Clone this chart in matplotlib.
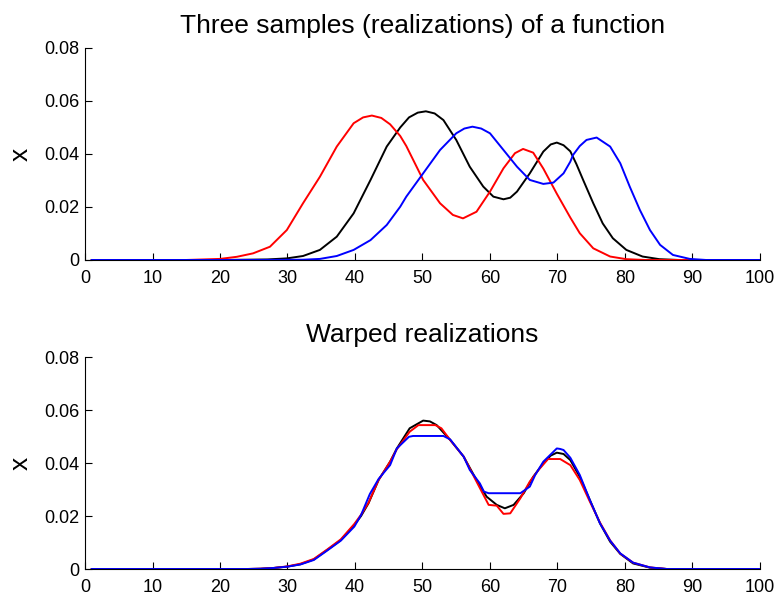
import matplotlib
matplotlib.use("Agg")
import matplotlib.pyplot as plt

plt.rcParams['font.family'] = ['Liberation Sans', 'DejaVu Sans']

# ---- top panel: original realizations ----
red_x = [1, 15, 20.0, 22.5, 24.9, 27.4, 29.9, 32.3, 34.8, 37.3, 39.8, 41.2, 42.5, 43.9, 45.2, 46.7,
         47.6, 50.1, 52.6, 54.5, 56.0, 58.0, 60.0, 62.0, 63.7, 64.9, 66.4, 67.9, 69.9, 71.9, 73.3,
         75.3, 77.8, 80.2, 83, 100]
red_y = [0, 0, 0.0004, 0.0012, 0.0025, 0.0050, 0.0113, 0.0214, 0.0314, 0.0428, 0.0516, 0.0538,
         0.0545, 0.0536, 0.0512, 0.0468, 0.0430, 0.0302, 0.0214, 0.0170, 0.0157, 0.0182, 0.0258,
         0.0346, 0.0403, 0.0419, 0.0405, 0.0345, 0.0250, 0.0160, 0.0101, 0.0044, 0.0013, 0.0003,
         0, 0]

black_x = [1, 20, 27, 29.9, 32.3, 34.8, 37.3, 39.8, 42.3, 44.7, 46.7, 48.0, 49.3, 50.5, 51.8, 53.1,
           55.0, 57.0, 59.0, 60.5, 62.0, 63.0, 64.0, 65.9, 67.9, 69.0, 69.9, 70.9, 71.9, 72.8, 73.8,
           75.3, 76.7, 78.2, 80.2, 82.6, 85.1, 88, 100]
black_y = [0, 0, 0.0002, 0.0006, 0.0015, 0.0038, 0.0088, 0.0176, 0.0302, 0.0428, 0.0500, 0.0538,
           0.0556, 0.0561, 0.0553, 0.0528, 0.0453, 0.0352, 0.0277, 0.0239, 0.0229, 0.0235, 0.0258,
           0.0327, 0.0409, 0.0436, 0.0443, 0.0433, 0.0410, 0.0362, 0.0302, 0.0214, 0.0138, 0.0082,
           0.0038, 0.0013, 0.0003, 0, 0]

blue_x = [1, 25, 32.3, 34.8, 37.3, 39.8, 42.3, 44.7, 46.7, 47.6, 50.1, 52.6, 55.0, 56.2, 57.4, 58.7,
          60.0, 62.0, 64.0, 65.9, 67.9, 69.4, 70.9, 71.9, 72.3, 73.3, 74.3, 75.8, 77.8, 79.3, 80.7,
          82.2, 83.7, 85.2, 87.1, 89.6, 92, 100]
blue_y = [0, 0, 0.0001, 0.0004, 0.0015, 0.0038, 0.0075, 0.0132, 0.0201, 0.0239, 0.0327, 0.0415,
          0.0478, 0.0496, 0.0503, 0.0496, 0.0478, 0.0415, 0.0352, 0.0302, 0.0287, 0.0292, 0.0327,
          0.0371, 0.0396, 0.0430, 0.0453, 0.0462, 0.0428, 0.0365, 0.0277, 0.0189, 0.0113, 0.0057,
          0.0019, 0.0004, 0, 0]

# ---- bottom panel: warped realizations ----
wblack_x = [1, 24, 26, 28, 30.0, 31.9, 33.9, 35.9, 37.9, 39.9, 40.9, 42.0, 43.5, 45.2, 46.2, 48.1,
            49.2, 50.1, 51.1, 52.1, 54.1, 56.1, 58.0, 59.5, 61.0, 62.2, 63.5, 65.0, 66.4, 67.9, 69.0,
            69.9, 70.9, 71.9, 73.3, 74.8, 76.3, 77.8, 79.3, 81.2, 83.7, 86.2, 100]
wblack_y = [0, 0, 0.0001, 0.0004, 0.0009, 0.0018, 0.0036, 0.0072, 0.0109, 0.0166, 0.0200, 0.0248,
            0.0336, 0.0405, 0.0455, 0.0531, 0.0547, 0.0560, 0.0557, 0.0543, 0.0487, 0.0424, 0.0336,
            0.0273, 0.0242, 0.0229, 0.0242, 0.0286, 0.0348, 0.0399, 0.0428, 0.0439, 0.0434, 0.0411,
            0.0348, 0.0260, 0.0172, 0.0103, 0.0057, 0.0021, 0.0005, 0, 0]

wred_x = [1, 24, 26, 28, 30.0, 31.9, 33.9, 35.9, 37.9, 39.9, 40.9, 42.0, 43.5, 45.2, 46.2, 48.1,
          49.4, 51.9, 52.8, 54.1, 56.1, 58.0, 59.8, 61.0, 62.0, 63.0, 64.5, 65.9, 67.2, 68.6, 70.4,
          71.9, 73.3, 74.8, 76.3, 77.8, 79.3, 81.2, 83.7, 86.2, 100]
wred_y = [0, 0, 0.0001, 0.0004, 0.0010, 0.0020, 0.0038, 0.0074, 0.0112, 0.0170, 0.0205, 0.0250,
          0.0336, 0.0405, 0.0452, 0.0518, 0.0543, 0.0543, 0.0531, 0.0487, 0.0424, 0.0330, 0.0242,
          0.0239, 0.0208, 0.0210, 0.0267, 0.0330, 0.0374, 0.0415, 0.0415, 0.0392, 0.0336, 0.0254,
          0.0175, 0.0108, 0.0058, 0.0024, 0.0006, 0, 0]

wblue_x = [1, 24, 26, 28, 30.0, 31.9, 33.9, 35.9, 37.9, 39.9, 40.9, 42.2, 43.5, 45.2, 46.2, 48.0,
           48.6, 53.1, 54.1, 56.1, 57.0, 58.5, 59.1, 59.8, 64.5, 65.9, 66.7, 67.9, 69.9, 70.4, 70.9,
           71.9, 73.3, 74.8, 76.3, 77.8, 79.3, 81.2, 83.7, 86.2, 100]
wblue_y = [0, 0, 0.0001, 0.0004, 0.0009, 0.0017, 0.0034, 0.0070, 0.0107, 0.0160, 0.0204, 0.0283,
           0.0340, 0.0392, 0.0455, 0.0499, 0.0502, 0.0502, 0.0489, 0.0424, 0.0374, 0.0323, 0.0292,
           0.0286, 0.0286, 0.0311, 0.0355, 0.0405, 0.0455, 0.0453, 0.0449, 0.0420, 0.0355, 0.0260,
           0.0172, 0.0107, 0.0059, 0.0024, 0.0006, 0, 0]

x_ticks = [0, 10, 20, 30, 40, 50, 60, 70, 80, 90, 100]
y_ticks = [0, 0.02, 0.04, 0.06, 0.08]
y_ticklabels = ['0', '0.02', '0.04', '0.06', '0.08']
titles = ['Three samples (realizations) of a function', 'Warped realizations']

fig = plt.figure(figsize=(7.77, 5.96), dpi=100)
ax1 = fig.add_axes([0.1094, 0.5638, 0.8687, 0.3557])
ax2 = fig.add_axes([0.1094, 0.0453, 0.8687, 0.3557])

lw = 1.4
ax1.plot(black_x, black_y, color='black', lw=lw)
ax1.plot(red_x, red_y, color='red', lw=lw)
ax1.plot(blue_x, blue_y, color='blue', lw=lw)

ax2.plot(wblack_x, wblack_y, color='black', lw=lw)
ax2.plot(wred_x, wred_y, color='red', lw=lw)
ax2.plot(wblue_x, wblue_y, color='blue', lw=lw)

for ax, title in zip((ax1, ax2), titles):
    ax.set_title(title, fontsize=19, pad=11)
    ax.set_xlim(0, 100)
    ax.set_ylim(0, 0.08)
    ax.set_xticks(x_ticks)
    ax.set_xticklabels([str(t) for t in x_ticks])
    ax.set_yticks(y_ticks)
    ax.set_yticklabels(y_ticklabels)
    ax.spines['top'].set_visible(False)
    ax.spines['right'].set_visible(False)
    ax.spines['left'].set_linewidth(0.8)
    ax.spines['bottom'].set_linewidth(0.8)
    ax.tick_params(direction='in', length=5, width=0.8, labelsize=13)
    ax.tick_params(axis='y', pad=4)
    ax.tick_params(axis='x', pad=7)
    ax.set_ylabel('x', fontsize=19)
    ax.yaxis.set_label_coords(-0.077, 0.5)

fig.savefig('out.png', dpi=100)
